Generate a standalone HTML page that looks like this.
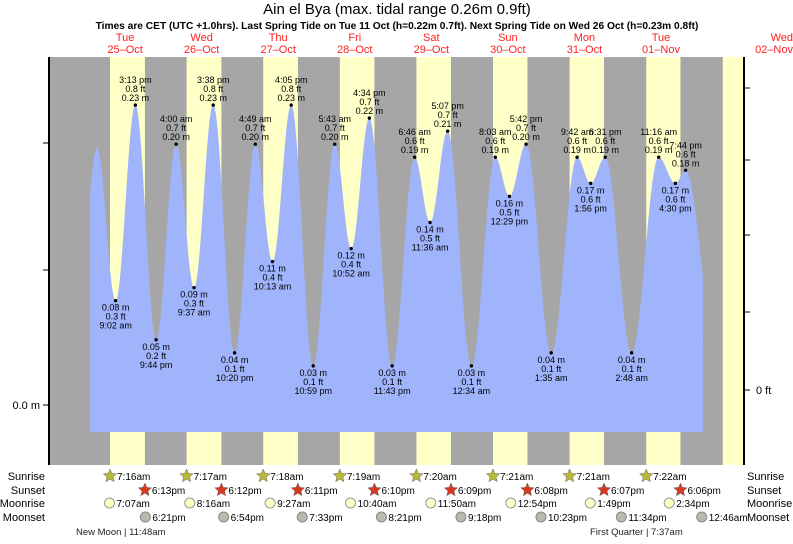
<!DOCTYPE html>
<html><head><meta charset="utf-8"><style>
body{margin:0;background:#fff;font-family:"Liberation Sans",sans-serif}
svg text{font-family:"Liberation Sans",sans-serif}
</style></head><body>
<svg id="c" width="793" height="539" viewBox="0 0 793 539"></svg>
<script>
// ---- data ----
const extremeHours=[3.2,9.03,15.22,21.73,28.0,33.62,39.63,46.33,52.82,58.22,64.08,70.98,77.72,82.87,88.57,95.72,102.77,107.6,113.12,120.57,128.05,132.48,137.7,145.58,153.7,157.93,162.52,170.8,179.27,184.5,187.73,197.0];
const extremeHeights=[0.197,0.08,0.23,0.05,0.20,0.09,0.23,0.04,0.20,0.11,0.23,0.03,0.20,0.12,0.22,0.03,0.19,0.14,0.21,0.03,0.19,0.16,0.20,0.04,0.19,0.17,0.19,0.04,0.19,0.17,0.18,0.05];
const extremeLabels=["","9:02 am","3:13 pm","9:44 pm","4:00 am","9:37 am","3:38 pm","10:20 pm","4:49 am","10:13 am","4:05 pm","10:59 pm","5:43 am","10:52 am","4:34 pm","11:43 pm","6:46 am","11:36 am","5:07 pm","12:34 am","8:03 am","12:29 pm","5:42 pm","1:35 am","9:42 am","1:56 pm","6:31 pm","2:48 am","11:16 am","4:30 pm","7:44 pm",""];
const extremeFeet=["","0.3","0.8","0.2","0.7","0.3","0.8","0.1","0.7","0.4","0.8","0.1","0.7","0.4","0.7","0.1","0.6","0.5","0.7","0.1","0.6","0.5","0.7","0.1","0.6","0.6","0.6","0.1","0.6","0.6","0.6",""];
const dayNames=["Tue","Wed","Thu","Fri","Sat","Sun","Mon","Tue","Wed"];
const dayDates=["25\u2013Oct","26\u2013Oct","27\u2013Oct","28\u2013Oct","29\u2013Oct","30\u2013Oct","31\u2013Oct","01\u2013Nov","02\u2013Nov"];
const sunrise=[7.27,7.28,7.3,7.32,7.33,7.35,7.35,7.37,7.37];
const sunset=[18.22,18.2,18.18,18.17,18.15,18.13,18.12,18.1];
const sunriseLbl=["7:16am","7:17am","7:18am","7:19am","7:20am","7:21am","7:21am","7:22am"];
const sunsetLbl=["6:13pm","6:12pm","6:11pm","6:10pm","6:09pm","6:08pm","6:07pm","6:06pm"];
const moonrise=[7.12,32.27,57.45,82.67,107.83,132.9,157.82,182.57];
const moonriseLbl=["7:07am","8:16am","9:27am","10:40am","11:50am","12:54pm","1:49pm","2:34pm"];
const moonset=[18.35,42.9,67.55,92.35,117.3,142.38,167.57,192.77];
const moonsetLbl=["6:21pm","6:54pm","7:33pm","8:21pm","9:18pm","10:23pm","11:34pm","12:46am"];
// ---- scales ----
const X0=86.8,PH=3.19,Y0=405,PM=1304;
const xs=t=>X0+t*PH, ys=h=>Y0-h*PM;
const svg=document.getElementById('c');
const NS='http://www.w3.org/2000/svg';
function mk(tag,at,parent){const e=document.createElementNS(NS,tag);for(const k in at)e.setAttribute(k,at[k]);(parent||svg).appendChild(e);return e;}
function txt(x,y,s,size,anchor,fill,weight){const e=mk('text',{x:x,y:y,'font-size':size,'text-anchor':anchor||'middle',fill:fill||'#000'});if(weight)e.setAttribute('font-weight',weight);e.textContent=s;return e;}
// background
let e=mk('rect',{x:50,y:57,width:693,height:408,fill:'#a6a6a6'});


for(let d=0;d<9;d++){
  const a=xs(d*24+sunrise[d]);let b=d<8?xs(d*24+sunset[d]):743;b=Math.min(b,743);
  e=mk('rect',{x:a,y:57,width:b-a,height:408,fill:'#ffffc8'});
  
  
}
// tide curve
const T0=1,T1=193.2;
function h(t){for(let i=0;i<extremeHours.length-1;i++){const a=extremeHours[i],b=extremeHours[i+1];if(t>=a&&t<=b){const f=(1-Math.cos(Math.PI*(t-a)/(b-a)))/2;return extremeHeights[i]+(extremeHeights[i+1]-extremeHeights[i])*f;}}
  const a=extremeHours[0],b=extremeHours[1];const f=(1-Math.cos(Math.PI*(t-a)/(b-a)))/2;return extremeHeights[0]+(extremeHeights[1]-extremeHeights[0])*f;}
let d='M'+xs(T0)+',432';
for(let t=T0;t<=T1;t+=0.1)d+=' L'+xs(t).toFixed(2)+','+ys(h(t)).toFixed(2);
d+=' L'+xs(T1)+','+ys(h(T1))+' L'+xs(T1)+',432 Z';
e=mk('path',{d:d,fill:'#a0b4fc'});


// extreme labels
for(let i=0;i<extremeHours.length;i++){
  if(!extremeLabels[i])continue;
  const x=xs(extremeHours[i]),y=ys(extremeHeights[i]);
  const high=(i===0)?true:extremeHeights[i]>extremeHeights[i-1];
  e=mk('circle',{cx:x,cy:y,r:1.7,fill:'#000'});
  
  
  const m=extremeHeights[i].toFixed(2)+' m',f=extremeFeet[i]+' ft';
  if(high){txt(x,y-22,extremeLabels[i],9);txt(x,y-13,f,9);txt(x,y-4,m,9);}
  else{txt(x,y+10,m,9);txt(x,y+19,f,9);txt(x,y+28,extremeLabels[i],9);}
}
// axes
mk('line',{x1:49,y1:57,x2:49,y2:465,stroke:'#000','stroke-width':2});
mk('line',{x1:744,y1:57,x2:744,y2:465,stroke:'#000','stroke-width':2});
[143,270,405].forEach(y=>mk('line',{x1:43,y1:y,x2:49,y2:y,stroke:'#000'}));
[88,160,235,312,390].forEach(y=>mk('line',{x1:744,y1:y,x2:750,y2:y,stroke:'#000'}));
e=txt(40,409,'0.0 m',11,'end');
e=txt(756,394,'0 ft',11,'start');
// titles
e=txt(397,14,'Ain el Bya (max. tidal range 0.26m 0.9ft)',15);
e=txt(397,29,'Times are CET (UTC +1.0hrs). Last Spring Tide on Tue 11 Oct (h=0.22m 0.7ft). Next Spring Tide on Wed 26 Oct (h=0.23m 0.8ft)',10.2,'middle','#000','bold');
for(let i=0;i<9;i++){let x=xs(i*24+12);let an='middle';if(i===8){x=793;an='end';}
  e=txt(x,41,dayNames[i],11,an,'#ff2020');
  e=txt(x,53,dayDates[i],11,an,'#ff2020');}
// bottom rows
const rows=[['Sunrise',480],['Sunset',494],['Moonrise',507],['Moonset',521]];
rows.forEach(r=>{txt(45,r[1],r[0],11,'end');txt(747,r[1],r[0],11,'start');});
function star(cx,cy,fill){let p='';for(let k=0;k<10;k++){const rr=k%2?3.2:7,a=-Math.PI/2+k*Math.PI/5;p+=(cx+rr*Math.cos(a)).toFixed(1)+','+(cy+rr*Math.sin(a)).toFixed(1)+' ';}return mk('polygon',{points:p,fill:fill,stroke:'#666','stroke-width':0.5});}
for(let i=0;i<8;i++){
  let x=xs(i*24+sunrise[i]);e=star(x,476,'#b8b83a');txt(x+7,480,sunriseLbl[i],10,'start');
  x=xs(i*24+sunset[i]);e=star(x,490,'#d43a20');txt(x+7,494,sunsetLbl[i],10,'start');
  x=xs(moonrise[i]);e=mk('circle',{cx:x,cy:503,r:5,fill:'#ffffc8',stroke:'#999'});txt(x+7,507,moonriseLbl[i],10,'start');
  x=xs(moonset[i]);e=mk('circle',{cx:x,cy:517,r:5,fill:'#bbb8ae',stroke:'#888'});txt(x+7,521,moonsetLbl[i],10,'start');
}
e=txt(76,535,'New Moon | 11:48am',9.5,'start','#222');
e=txt(590,535,'First Quarter | 7:37am',9.5,'start','#222');
</script>
</body></html>
